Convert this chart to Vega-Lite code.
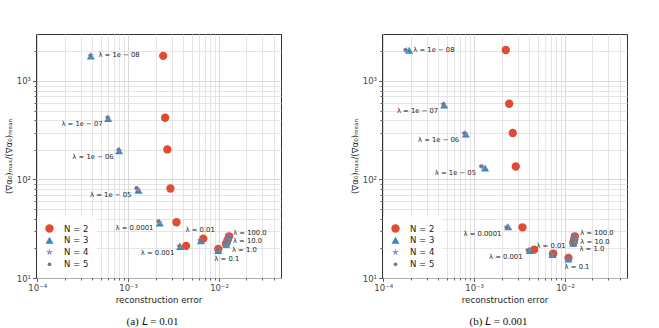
{
  "$schema": "https://vega.github.io/schema/vega-lite/v6.json",
  "background": "white",
  "padding": {"left": 3, "top": 33, "right": 5, "bottom": 0},
  "spacing": 67,
  "datasets": {
    "a": [
      {"N": "N = 2", "lam": "1e-08", "err": 0.00243, "ratio": 1800},
      {"N": "N = 2", "lam": "1e-07", "err": 0.00255, "ratio": 423},
      {"N": "N = 2", "lam": "1e-06", "err": 0.0027, "ratio": 202},
      {"N": "N = 2", "lam": "1e-05", "err": 0.00292, "ratio": 81},
      {"N": "N = 2", "lam": "0.0001", "err": 0.0034, "ratio": 36.8},
      {"N": "N = 2", "lam": "0.001", "err": 0.00434, "ratio": 21.2},
      {"N": "N = 2", "lam": "0.01", "err": 0.0067, "ratio": 25.1},
      {"N": "N = 2", "lam": "0.1", "err": 0.0098, "ratio": 19.7},
      {"N": "N = 2", "lam": "1.0", "err": 0.0119, "ratio": 22.3},
      {"N": "N = 2", "lam": "10.0", "err": 0.0124, "ratio": 24.3},
      {"N": "N = 2", "lam": "100.0", "err": 0.0129, "ratio": 26.5},
      {"N": "N = 3", "lam": "1e-08", "err": 0.000389, "ratio": 1795},
      {"N": "N = 3", "lam": "1e-07", "err": 0.000603, "ratio": 416},
      {"N": "N = 3", "lam": "1e-06", "err": 0.000796, "ratio": 196},
      {"N": "N = 3", "lam": "1e-05", "err": 0.0013, "ratio": 77.8},
      {"N": "N = 3", "lam": "0.0001", "err": 0.00223, "ratio": 36.1},
      {"N": "N = 3", "lam": "0.001", "err": 0.00373, "ratio": 20.9},
      {"N": "N = 3", "lam": "0.01", "err": 0.0063, "ratio": 23.8},
      {"N": "N = 3", "lam": "0.1", "err": 0.0098, "ratio": 19.0},
      {"N": "N = 3", "lam": "1.0", "err": 0.012, "ratio": 22.0},
      {"N": "N = 3", "lam": "10.0", "err": 0.0123, "ratio": 23.8},
      {"N": "N = 3", "lam": "100.0", "err": 0.0127, "ratio": 25.9},
      {"N": "N = 4", "lam": "1e-08", "err": 0.000387, "ratio": 1810},
      {"N": "N = 4", "lam": "1e-07", "err": 0.000598, "ratio": 422},
      {"N": "N = 4", "lam": "1e-06", "err": 0.00079, "ratio": 199},
      {"N": "N = 4", "lam": "1e-05", "err": 0.00126, "ratio": 80},
      {"N": "N = 4", "lam": "0.0001", "err": 0.00219, "ratio": 37},
      {"N": "N = 4", "lam": "0.001", "err": 0.00368, "ratio": 21.1},
      {"N": "N = 4", "lam": "0.01", "err": 0.0062, "ratio": 24.0},
      {"N": "N = 4", "lam": "0.1", "err": 0.00975, "ratio": 19.3},
      {"N": "N = 4", "lam": "1.0", "err": 0.0119, "ratio": 22.1},
      {"N": "N = 4", "lam": "10.0", "err": 0.0122, "ratio": 24.0},
      {"N": "N = 4", "lam": "100.0", "err": 0.0126, "ratio": 26.1},
      {"N": "N = 5", "lam": "1e-08", "err": 0.000385, "ratio": 1820},
      {"N": "N = 5", "lam": "1e-07", "err": 0.000595, "ratio": 427},
      {"N": "N = 5", "lam": "1e-06", "err": 0.000785, "ratio": 201},
      {"N": "N = 5", "lam": "1e-05", "err": 0.00123, "ratio": 82.2},
      {"N": "N = 5", "lam": "0.0001", "err": 0.00215, "ratio": 37.7},
      {"N": "N = 5", "lam": "0.001", "err": 0.00365, "ratio": 21.2},
      {"N": "N = 5", "lam": "0.01", "err": 0.0062, "ratio": 24.1},
      {"N": "N = 5", "lam": "0.1", "err": 0.0097, "ratio": 19.4},
      {"N": "N = 5", "lam": "1.0", "err": 0.0119, "ratio": 22.2},
      {"N": "N = 5", "lam": "10.0", "err": 0.0122, "ratio": 24.1},
      {"N": "N = 5", "lam": "100.0", "err": 0.0126, "ratio": 26.2}
    ],
    "b": [
      {"N": "N = 2", "lam": "1e-08", "err": 0.00223, "ratio": 2066},
      {"N": "N = 2", "lam": "1e-07", "err": 0.00243, "ratio": 587},
      {"N": "N = 2", "lam": "1e-06", "err": 0.00266, "ratio": 297},
      {"N": "N = 2", "lam": "1e-05", "err": 0.00287, "ratio": 135.6},
      {"N": "N = 2", "lam": "0.0001", "err": 0.0034, "ratio": 32.7},
      {"N": "N = 2", "lam": "0.001", "err": 0.00456, "ratio": 19.4},
      {"N": "N = 2", "lam": "0.01", "err": 0.0074, "ratio": 17.7},
      {"N": "N = 2", "lam": "0.1", "err": 0.0109, "ratio": 16.0},
      {"N": "N = 2", "lam": "1.0", "err": 0.0123, "ratio": 22.8},
      {"N": "N = 2", "lam": "10.0", "err": 0.0126, "ratio": 24.6},
      {"N": "N = 2", "lam": "100.0", "err": 0.0128, "ratio": 26.5},
      {"N": "N = 3", "lam": "1e-08", "err": 0.000193, "ratio": 2050},
      {"N": "N = 3", "lam": "1e-07", "err": 0.000468, "ratio": 570},
      {"N": "N = 3", "lam": "1e-06", "err": 0.00081, "ratio": 289},
      {"N": "N = 3", "lam": "1e-05", "err": 0.00132, "ratio": 131},
      {"N": "N = 3", "lam": "0.0001", "err": 0.00237, "ratio": 33.1},
      {"N": "N = 3", "lam": "0.001", "err": 0.00409, "ratio": 19.0},
      {"N": "N = 3", "lam": "0.01", "err": 0.00725, "ratio": 17.3},
      {"N": "N = 3", "lam": "0.1", "err": 0.0109, "ratio": 15.6},
      {"N": "N = 3", "lam": "1.0", "err": 0.0123, "ratio": 22.5},
      {"N": "N = 3", "lam": "10.0", "err": 0.0126, "ratio": 24.3},
      {"N": "N = 3", "lam": "100.0", "err": 0.0128, "ratio": 26.2},
      {"N": "N = 4", "lam": "1e-08", "err": 0.00018, "ratio": 2060},
      {"N": "N = 4", "lam": "1e-07", "err": 0.00046, "ratio": 578},
      {"N": "N = 4", "lam": "1e-06", "err": 0.00079, "ratio": 293},
      {"N": "N = 4", "lam": "1e-05", "err": 0.00124, "ratio": 134},
      {"N": "N = 4", "lam": "0.0001", "err": 0.0023, "ratio": 33},
      {"N": "N = 4", "lam": "0.001", "err": 0.00395, "ratio": 19.1},
      {"N": "N = 4", "lam": "0.01", "err": 0.0071, "ratio": 17.3},
      {"N": "N = 4", "lam": "0.1", "err": 0.0108, "ratio": 15.7},
      {"N": "N = 4", "lam": "1.0", "err": 0.0122, "ratio": 22.5},
      {"N": "N = 4", "lam": "10.0", "err": 0.0125, "ratio": 24.3},
      {"N": "N = 4", "lam": "100.0", "err": 0.0127, "ratio": 26.2},
      {"N": "N = 5", "lam": "1e-08", "err": 0.000175, "ratio": 2066},
      {"N": "N = 5", "lam": "1e-07", "err": 0.000456, "ratio": 583},
      {"N": "N = 5", "lam": "1e-06", "err": 0.000777, "ratio": 296},
      {"N": "N = 5", "lam": "1e-05", "err": 0.00119, "ratio": 136.5},
      {"N": "N = 5", "lam": "0.0001", "err": 0.00226, "ratio": 32.7},
      {"N": "N = 5", "lam": "0.001", "err": 0.00386, "ratio": 19.2},
      {"N": "N = 5", "lam": "0.01", "err": 0.007, "ratio": 17.3},
      {"N": "N = 5", "lam": "0.1", "err": 0.0108, "ratio": 15.8},
      {"N": "N = 5", "lam": "1.0", "err": 0.0122, "ratio": 22.5},
      {"N": "N = 5", "lam": "10.0", "err": 0.0125, "ratio": 24.3},
      {"N": "N = 5", "lam": "100.0", "err": 0.0126, "ratio": 26.2}
    ]
  },
  "resolve": {
    "scale": {"color": "independent", "shape": "independent", "size": "independent"},
    "legend": {"color": "independent", "shape": "independent", "size": "independent"}
  },
  "hconcat": [
    {
      "width": 245,
      "height": 244,
      "data": {"name": "a"},
      "title": {"text": "(a) 𝐿 = 0.01", "orient": "bottom", "frame": "group", "dx": -6, "offset": 12},
      "encoding": {
        "x": {"field": "err", "type": "quantitative", "title": "reconstruction error",
          "scale": {"type": "log", "domain": [0.000097, 0.048], "nice": false},
          "axis": {
            "values": [0.0001, 0.0002, 0.0003, 0.0004, 0.0005, 0.0006, 0.0007, 0.0008, 0.0009, 0.001, 0.002, 0.003, 0.004, 0.005, 0.006, 0.007, 0.008, 0.009, 0.01, 0.02, 0.03, 0.04],
            "labelExpr": "datum.value == 0.0001 ? '10⁻⁴' : datum.value == 0.001 ? '10⁻³' : datum.value == 0.01 ? '10⁻²' : ''",
            "tickSize": {"condition": {"test": "indexof([0.0001, 0.001, 0.01], datum.value) >= 0", "value": 3.5}, "value": 2},
            "gridColor": {"condition": {"test": "indexof([0.0001, 0.001, 0.01], datum.value) >= 0", "value": "#cfcfcf"}, "value": "#dedede"}
          }},
        "y": {"field": "ratio", "type": "quantitative", "title": "(∇α₀)ₘₐₓ/(∇α₀)ₘₑₐₙ",
          "scale": {"type": "log", "domain": [10, 3000], "nice": false},
          "axis": {
            "values": [10, 20, 30, 40, 50, 60, 70, 80, 90, 100, 200, 300, 400, 500, 600, 700, 800, 900, 1000, 2000],
            "labelExpr": "datum.value == 10 ? '10¹' : datum.value == 100 ? '10²' : datum.value == 1000 ? '10³' : ''",
            "tickSize": {"condition": {"test": "indexof([10, 100, 1000], datum.value) >= 0", "value": 3.5}, "value": 2},
            "gridColor": {"condition": {"test": "indexof([10, 100, 1000], datum.value) >= 0", "value": "#cfcfcf"}, "value": "#dedede"}
          }}
      },
      "layer": [
        {
          "mark": {"type": "point", "filled": true, "opacity": 1},
          "encoding": {
            "color": {"field": "N", "type": "nominal", "title": null,
              "scale": {"domain": ["N = 2", "N = 3", "N = 4", "N = 5"], "range": ["#E24A33", "#348ABD", "#988ED5", "#777777"]}},
            "shape": {"field": "N", "type": "nominal", "title": null,
              "scale": {"domain": ["N = 2", "N = 3", "N = 4", "N = 5"], "range": ["circle", "triangle-up", "M0,-1L0.2245,-0.309L0.951,-0.309L0.363,0.118L0.588,0.809L0,0.382L-0.588,0.809L-0.363,0.118L-0.951,-0.309L-0.2245,-0.309Z", "circle"]}},
            "size": {"field": "N", "type": "nominal", "title": null,
              "scale": {"type": "ordinal", "domain": ["N = 2", "N = 3", "N = 4", "N = 5"], "range": [70, 64, 55, 14]}}
          }
        },
        {
          "transform": [{"filter": "datum.N == 'N = 5' && datum.lam == '1e-08'"}, {"calculate": "'λ = ' + replace(datum.lam, '-', ' − ')", "as": "label"}],
          "mark": {"type": "text", "align": "left", "baseline": "middle", "dx": 8, "dy": 0},
          "encoding": {"text": {"field": "label"}}
        },
        {
          "transform": [{"filter": "datum.N == 'N = 5' && indexof(['1e-07', '1e-06', '1e-05', '0.0001', '0.001'], datum.lam) >= 0"}, {"calculate": "'λ = ' + replace(datum.lam, '-', ' − ')", "as": "label"}],
          "mark": {"type": "text", "align": "right", "baseline": "middle", "dx": -5, "dy": 7},
          "encoding": {"text": {"field": "label"}}
        },
        {
          "transform": [{"filter": "datum.N == 'N = 5' && datum.lam == '0.01'"}, {"calculate": "'λ = ' + datum.lam", "as": "label"}],
          "mark": {"type": "text", "align": "center", "baseline": "middle", "dx": 0, "dy": -10},
          "encoding": {"text": {"field": "label"}}
        },
        {
          "transform": [{"filter": "datum.N == 'N = 5' && datum.lam == '0.1'"}, {"calculate": "'λ = ' + datum.lam", "as": "label"}],
          "mark": {"type": "text", "align": "left", "baseline": "middle", "dx": -3.5, "dy": 9},
          "encoding": {"text": {"field": "label"}}
        },
        {
          "transform": [{"filter": "datum.N == 'N = 5' && datum.lam == '1.0'"}, {"calculate": "'λ = ' + datum.lam", "as": "label"}],
          "mark": {"type": "text", "align": "left", "baseline": "middle", "dx": 6, "dy": 6},
          "encoding": {"text": {"field": "label"}}
        },
        {
          "transform": [{"filter": "datum.N == 'N = 5' && datum.lam == '10.0'"}, {"calculate": "'λ = ' + datum.lam", "as": "label"}],
          "mark": {"type": "text", "align": "left", "baseline": "middle", "dx": 6, "dy": 1},
          "encoding": {"text": {"field": "label"}}
        },
        {
          "transform": [{"filter": "datum.N == 'N = 5' && datum.lam == '100.0'"}, {"calculate": "'λ = ' + datum.lam", "as": "label"}],
          "mark": {"type": "text", "align": "left", "baseline": "middle", "dx": 5, "dy": -4},
          "encoding": {"text": {"field": "label"}}
        }
      ]
    },
    {
      "width": 245,
      "height": 244,
      "data": {"name": "b"},
      "title": {"text": "(b) 𝐿 = 0.001", "orient": "bottom", "frame": "group", "dx": -6, "offset": 12},
      "encoding": {
        "x": {"field": "err", "type": "quantitative", "title": "reconstruction error",
          "scale": {"type": "log", "domain": [0.000097, 0.048], "nice": false},
          "axis": {
            "values": [0.0001, 0.0002, 0.0003, 0.0004, 0.0005, 0.0006, 0.0007, 0.0008, 0.0009, 0.001, 0.002, 0.003, 0.004, 0.005, 0.006, 0.007, 0.008, 0.009, 0.01, 0.02, 0.03, 0.04],
            "labelExpr": "datum.value == 0.0001 ? '10⁻⁴' : datum.value == 0.001 ? '10⁻³' : datum.value == 0.01 ? '10⁻²' : ''",
            "tickSize": {"condition": {"test": "indexof([0.0001, 0.001, 0.01], datum.value) >= 0", "value": 3.5}, "value": 2},
            "gridColor": {"condition": {"test": "indexof([0.0001, 0.001, 0.01], datum.value) >= 0", "value": "#cfcfcf"}, "value": "#dedede"}
          }},
        "y": {"field": "ratio", "type": "quantitative", "title": "(∇α₀)ₘₐₓ/(∇α₀)ₘₑₐₙ",
          "scale": {"type": "log", "domain": [10, 3000], "nice": false},
          "axis": {
            "values": [10, 20, 30, 40, 50, 60, 70, 80, 90, 100, 200, 300, 400, 500, 600, 700, 800, 900, 1000, 2000],
            "labelExpr": "datum.value == 10 ? '10¹' : datum.value == 100 ? '10²' : datum.value == 1000 ? '10³' : ''",
            "tickSize": {"condition": {"test": "indexof([10, 100, 1000], datum.value) >= 0", "value": 3.5}, "value": 2},
            "gridColor": {"condition": {"test": "indexof([10, 100, 1000], datum.value) >= 0", "value": "#cfcfcf"}, "value": "#dedede"}
          }}
      },
      "layer": [
        {
          "mark": {"type": "point", "filled": true, "opacity": 1},
          "encoding": {
            "color": {"field": "N", "type": "nominal", "title": null,
              "scale": {"domain": ["N = 2", "N = 3", "N = 4", "N = 5"], "range": ["#E24A33", "#348ABD", "#988ED5", "#777777"]}},
            "shape": {"field": "N", "type": "nominal", "title": null,
              "scale": {"domain": ["N = 2", "N = 3", "N = 4", "N = 5"], "range": ["circle", "triangle-up", "M0,-1L0.2245,-0.309L0.951,-0.309L0.363,0.118L0.588,0.809L0,0.382L-0.588,0.809L-0.363,0.118L-0.951,-0.309L-0.2245,-0.309Z", "circle"]}},
            "size": {"field": "N", "type": "nominal", "title": null,
              "scale": {"type": "ordinal", "domain": ["N = 2", "N = 3", "N = 4", "N = 5"], "range": [70, 64, 55, 14]}}
          }
        },
        {
          "transform": [{"filter": "datum.N == 'N = 5' && datum.lam == '1e-08'"}, {"calculate": "'λ = ' + replace(datum.lam, '-', ' − ')", "as": "label"}],
          "mark": {"type": "text", "align": "left", "baseline": "middle", "dx": 8, "dy": 0},
          "encoding": {"text": {"field": "label"}}
        },
        {
          "transform": [{"filter": "datum.N == 'N = 5' && indexof(['1e-07', '1e-06', '1e-05', '0.0001', '0.001'], datum.lam) >= 0"}, {"calculate": "'λ = ' + replace(datum.lam, '-', ' − ')", "as": "label"}],
          "mark": {"type": "text", "align": "right", "baseline": "middle", "dx": -5, "dy": 7},
          "encoding": {"text": {"field": "label"}}
        },
        {
          "transform": [{"filter": "datum.N == 'N = 5' && datum.lam == '0.01'"}, {"calculate": "'λ = ' + datum.lam", "as": "label"}],
          "mark": {"type": "text", "align": "center", "baseline": "middle", "dx": 0, "dy": -9},
          "encoding": {"text": {"field": "label"}}
        },
        {
          "transform": [{"filter": "datum.N == 'N = 5' && datum.lam == '0.1'"}, {"calculate": "'λ = ' + datum.lam", "as": "label"}],
          "mark": {"type": "text", "align": "left", "baseline": "middle", "dx": -3.5, "dy": 9},
          "encoding": {"text": {"field": "label"}}
        },
        {
          "transform": [{"filter": "datum.N == 'N = 5' && datum.lam == '1.0'"}, {"calculate": "'λ = ' + datum.lam", "as": "label"}],
          "mark": {"type": "text", "align": "left", "baseline": "middle", "dx": 6.5, "dy": 6},
          "encoding": {"text": {"field": "label"}}
        },
        {
          "transform": [{"filter": "datum.N == 'N = 5' && datum.lam == '10.0'"}, {"calculate": "'λ = ' + datum.lam", "as": "label"}],
          "mark": {"type": "text", "align": "left", "baseline": "middle", "dx": 6.5, "dy": 1.5},
          "encoding": {"text": {"field": "label"}}
        },
        {
          "transform": [{"filter": "datum.N == 'N = 5' && datum.lam == '100.0'"}, {"calculate": "'λ = ' + datum.lam", "as": "label"}],
          "mark": {"type": "text", "align": "left", "baseline": "middle", "dx": 6, "dy": -3.5},
          "encoding": {"text": {"field": "label"}}
        }
      ]
    }
  ],
  "config": {
    "font": "DejaVu Sans",
    "view": {"stroke": "#333333", "strokeWidth": 1},
    "axis": {
      "domain": false,
      "grid": true,
      "gridWidth": 0.8,
      "tickColor": "#333333",
      "tickWidth": 0.8,
      "labelColor": "#444444",
      "labelFont": "DejaVu Sans",
      "labelFontSize": 8.5,
      "labelPadding": 2,
      "labelOverlap": false,
      "labelFlush": false,
      "titleFont": "DejaVu Sans",
      "titleFontSize": 8.7,
      "titleFontWeight": "normal",
      "titleColor": "#222222",
      "titlePadding": 3
    },
    "text": {"font": "DejaVu Sans", "fontSize": 6.8, "color": "#222222"},
    "legend": {
      "orient": "bottom-left",
      "offset": 1,
      "padding": 8,
      "fillColor": "rgba(255,255,255,0.85)",
      "strokeColor": null,
      "labelFont": "DejaVu Sans",
      "labelFontSize": 8.5,
      "labelColor": "#222222",
      "labelOffset": 10,
      "rowPadding": 3,
      "symbolStrokeWidth": 0
    },
    "title": {
      "font": "Liberation Serif",
      "fontSize": 11,
      "fontWeight": "normal",
      "color": "#111111",
      "anchor": "middle"
    }
  }
}
